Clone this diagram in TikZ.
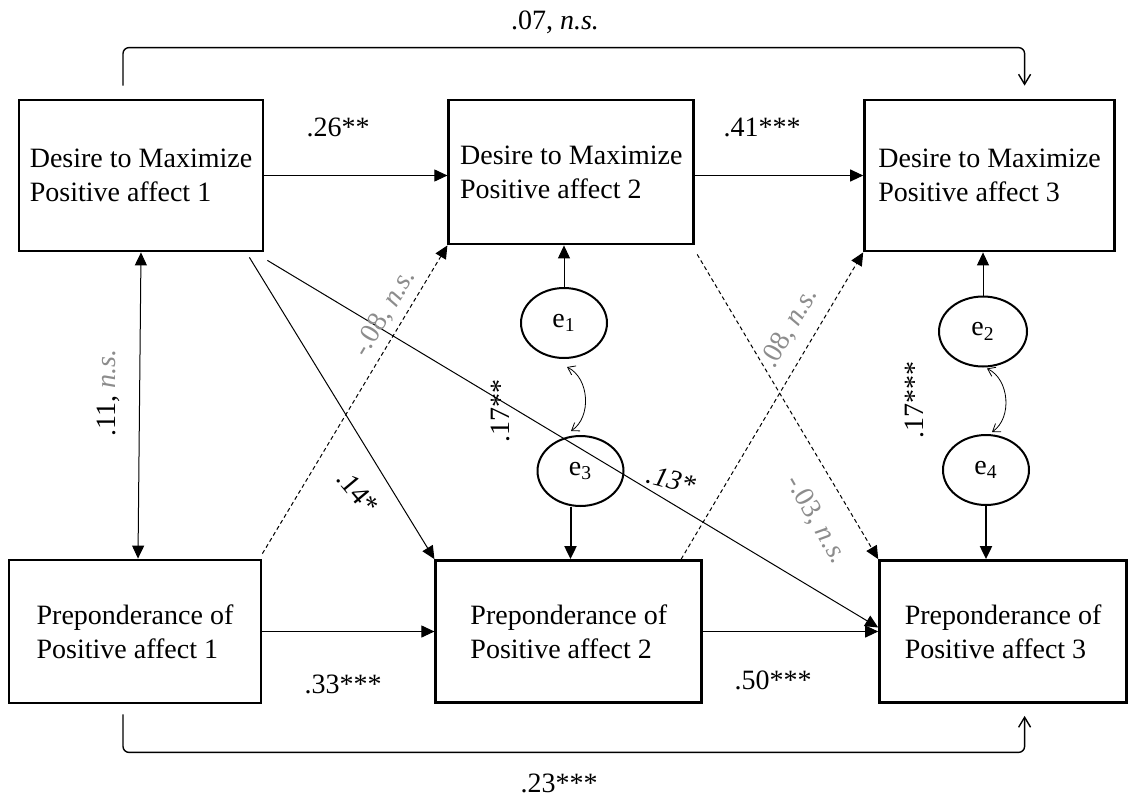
\documentclass[tikz,border=0pt]{standalone}
\usepackage{fontspec}
\setmainfont{Liberation Serif}
\usepackage{xcolor}
\usetikzlibrary{shapes.geometric, arrows.meta, positioning, calc}
\definecolor{nsgray}{gray}{0.55}
\tikzset{
  block/.style={rectangle,draw=black,line width=1.4pt,align=left,inner sep=0pt,
    font=\fontsize{14}{17}\selectfont},
  errnode/.style={ellipse,draw=black,line width=1pt,minimum width=43pt,
    minimum height=35pt,inner sep=0pt,font=\fontsize{14}{17}\selectfont},
  arrow/.style={-{Triangle[length=6.5pt,width=6pt]},line width=0.5pt,draw=black},
  dblarrow/.style={{Triangle[length=6.5pt,width=6pt]}-{Triangle[length=6.5pt,width=6pt]},
    line width=0.5pt,draw=black},
  dasharrow/.style={arrow,dash pattern=on 2pt off 1.5pt},
  thickarrow/.style={arrow,line width=1pt},
  covarrow/.style={{Straight Barb[length=3.5pt,width=5pt]}-{Straight Barb[length=3.5pt,width=5pt]},
    line width=0.4pt},
  bracket/.style={-{Straight Barb[length=5pt,width=6pt]},line width=0.7pt,rounded corners=3pt},
  coef/.style={font=\fontsize{14}{17}\selectfont,inner sep=0pt},
  nscoef/.style={coef,text=nsgray}
}
\begin{document}
\begin{tikzpicture}[x=0.5pt,y=-0.5pt]
  \useasboundingbox (0,0) rectangle (1131,798);

  % top row: desire to maximize
  \node[block, minimum width=122pt, minimum height=75.5pt] (d1) at (141,175.5)
    {Desire to Maximize\\ Positive affect 1};
  \node[block, minimum width=122.5pt, minimum height=72pt,
    right=91.5pt of d1.north east, anchor=north west] (d2)
    {Desire to Maximize\\ Positive affect 2};
  \node[block, minimum width=125pt, minimum height=75.5pt,
    right=84pt of d2.north east, anchor=north west] (d3)
    {Desire to Maximize\\ Positive affect 3};

  % bottom row: preponderance
  \node[block, minimum width=126pt, minimum height=71.5pt] (p1) at (135,631.5)
    {Preponderance of\\ Positive affect 1};
  \node[block, minimum width=133pt, minimum height=71pt, right=86pt of p1] (p2)
    {Preponderance of\\ Positive affect 2};
  \node[block, minimum width=123.5pt, minimum height=71pt, right=87.5pt of p2] (p3)
    {Preponderance of\\ Positive affect 3};

  % residuals
  \node[errnode] (e1) at (564,323) {e\textsubscript{1}};
  \node[errnode] (e3) at (580.5,471) {e\textsubscript{3}};
  \node[errnode, minimum width=44pt] (e2) at (983,331.5) {e\textsubscript{2}};
  \node[errnode] (e4) at (986,470) {e\textsubscript{4}};

  % stability paths
  \draw[arrow] (d1.east) -- (d1.east -| d2.west);
  \draw[arrow] (d3.west -| d2.east) -- (d3.west);
  \draw[arrow] (p1.east) -- (p1.east -| p2.west);
  \draw[arrow] (p2.east) -- (p2.east -| p3.west);
  \draw[dblarrow] (d1.south) -- ([xshift=1.5pt]p1.north);

  % cross-lagged paths
  \draw[arrow] ($(d1.south east)+(-15,5)$) -- (p2.north west);
  \draw[arrow] ($(d1.south east)+(3,8)$) -- ($(p3.west)+(0,-4)$);
  \draw[dasharrow] ($(p1.north east)+(0,-5)$) -- (d2.south west);
  \draw[dasharrow] ($(p2.north east)+(-22,0)$) -- (d3.south west);
  \draw[dasharrow] ($(d2.south east)+(2,9)$) -- (p3.north west);

  % residual paths
  \draw[arrow] (e1.north) -- (e1.north |- d2.south);
  \draw[arrow] (e2.north) -- (e2.north |- d3.south);
  \draw[thickarrow] ([xshift=-5pt]e3.south) -- ([xshift=-5pt]e3.south |- p2.north);
  \draw[thickarrow] (e4.south) -- (e4.south |- p3.north);
  \draw[covarrow] ([shift={(3,8)}]e1.south) to[bend left=60] ([shift={(-9.5,-4)}]e3.north);
  \draw[covarrow] ([shift={(4,1)}]e2.south) to[bend left=60] ([shift={(6,-2)}]e4.north);

  % lag-2 paths
  \draw[bracket] ($(d1.north)+(-18,-13)$) -- ++(0,-38) -| ($(d3.north)+(35,-13)$);
  \draw[bracket] ($(p1.south)+(-12,10)$) -- ++(0,38) -| ($(p3.south)+(21.5,12)$);

  % coefficients
  \node[coef] (c07) at (555,22) {.07, \textit{n.s.}};
  \node[coef] (c23) at (559,783) {.23***};
  \node[coef] (c26) at (338,127) {.26**};
  \node[coef] (c41) at (762,127) {.41***};
  \node[coef] (c33) at (343,684) {.33***};
  \node[coef] (c50) at (773,680) {.50***};
  \node[coef, rotate=90] (c11) at (108,393) {.11, \textcolor{nsgray}{\textit{n.s.}}};
  \node[coef, rotate=-50] (c14) at (358,492) {.14*};
  \node[coef, rotate=-15] (c13) at (671,480) {\textit{.13*}};
  \node[coef, rotate=90] (c17a) at (500,411) {.17**};
  \node[coef, rotate=90] (c17b) at (914,400) {.17***};
  \node[nscoef, rotate=59] (c08a) at (385,313) {-.08, \textit{n.s.}};
  \node[nscoef, rotate=60] (c08b) at (790,328) {.08, \textit{n.s.}};
  \node[nscoef, rotate=-60] (c03) at (816,520) {-.03, \textit{n.s.}};
\end{tikzpicture}
\end{document}
